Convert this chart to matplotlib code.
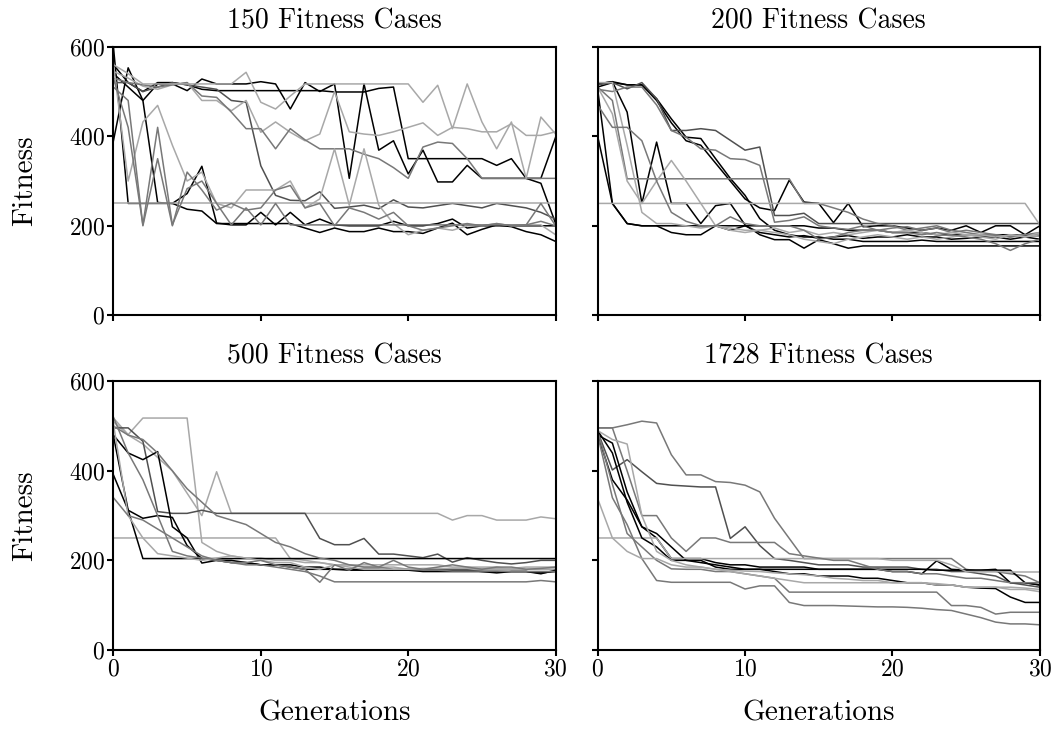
import matplotlib
matplotlib.use("Agg")
import matplotlib.pyplot as plt
import numpy as np

plt.rcParams['font.family'] = 'serif'
plt.rcParams['font.serif'] = ['cmr10']
plt.rcParams['mathtext.fontset'] = 'cm'
plt.rcParams['axes.formatter.use_mathtext'] = True

generations = np.arange(31)
titles = ["150 Fitness Cases", "200 Fitness Cases", "500 Fitness Cases", "1728 Fitness Cases"]

BLACK = "#000000"
DARK = "#505050"
MID = "#787878"
LIGHT = "#a8a8a8"

# 150 fitness cases
runs_150 = [
    (BLACK, [600, 250, 250, 250, 250, 237, 233, 205, 205, 205, 205, 205, 205, 195, 185, 195, 187, 187, 195, 187, 187, 183, 195, 206, 180, 192, 202, 198, 187, 180, 165]),
    (BLACK, [390, 553, 480, 517, 517, 502, 528, 517, 517, 517, 522, 517, 461, 520, 500, 517, 306, 517, 369, 390, 316, 369, 298, 298, 335, 306, 306, 306, 306, 295, 205]),
    (BLACK, [560, 520, 500, 520, 520, 515, 505, 502, 502, 502, 502, 502, 502, 502, 502, 499, 499, 499, 507, 510, 350, 350, 350, 350, 350, 350, 335, 350, 306, 306, 398]),
    (BLACK, [540, 510, 480, 252, 250, 272, 333, 206, 202, 202, 230, 202, 230, 202, 215, 202, 200, 200, 200, 210, 200, 200, 205, 215, 195, 200, 200, 200, 200, 200, 200]),
    (DARK, [520, 520, 500, 510, 520, 515, 510, 505, 480, 476, 334, 268, 257, 256, 276, 239, 242, 246, 238, 258, 242, 240, 245, 250, 245, 240, 250, 245, 240, 230, 215]),
    (LIGHT, [545, 530, 512, 505, 515, 520, 480, 480, 457, 480, 409, 432, 409, 390, 405, 500, 410, 405, 402, 410, 420, 430, 402, 420, 417, 410, 410, 428, 402, 402, 410]),
    (MID, [530, 520, 515, 510, 515, 520, 490, 487, 454, 417, 417, 372, 417, 392, 372, 372, 372, 360, 350, 330, 306, 376, 387, 384, 350, 306, 306, 306, 306, 306, 306]),
    (LIGHT, [560, 540, 517, 517, 517, 517, 517, 517, 517, 543, 476, 461, 490, 517, 517, 517, 517, 517, 517, 517, 517, 476, 514, 417, 517, 432, 372, 432, 306, 443, 405]),
    (LIGHT, [250] * 31),
    (LIGHT, [560, 300, 432, 469, 380, 300, 320, 250, 240, 280, 280, 280, 300, 240, 260, 372, 246, 372, 246, 205, 180, 190, 195, 190, 200, 200, 205, 200, 202, 202, 180]),
    (MID, [530, 420, 202, 420, 202, 283, 300, 250, 202, 240, 202, 250, 202, 202, 202, 202, 202, 202, 202, 202, 202, 202, 202, 202, 202, 202, 202, 202, 202, 210, 200]),
    (MID, [510, 480, 200, 350, 200, 320, 280, 235, 250, 235, 240, 280, 290, 240, 250, 200, 240, 230, 215, 230, 200, 190, 195, 200, 205, 200, 205, 200, 202, 250, 200]),
]

# 200 fitness cases
runs_200 = [
    (BLACK, [505, 250, 205, 200, 200, 200, 200, 200, 200, 200, 200, 200, 200, 200, 200, 195, 195, 190, 190, 190, 185, 185, 185, 180, 180, 180, 180, 180, 180, 178, 178]),
    (BLACK, [400, 250, 205, 200, 200, 185, 180, 180, 200, 190, 200, 185, 180, 175, 178, 172, 175, 178, 172, 175, 175, 180, 175, 175, 170, 172, 175, 175, 170, 175, 170]),
    (BLACK, [517, 522, 454, 250, 387, 250, 250, 205, 245, 250, 202, 180, 169, 169, 150, 169, 160, 150, 155, 155, 155, 155, 155, 155, 155, 155, 155, 155, 155, 155, 155]),
    (BLACK, [517, 522, 515, 515, 484, 439, 398, 395, 350, 306, 268, 216, 190, 180, 175, 175, 170, 170, 165, 165, 165, 165, 168, 165, 165, 165, 165, 165, 165, 165, 165]),
    (BLACK, [510, 520, 515, 515, 480, 430, 390, 380, 340, 300, 260, 240, 234, 302, 253, 250, 207, 250, 198, 200, 200, 195, 190, 195, 190, 200, 185, 200, 200, 180, 200]),
    (DARK, [515, 520, 506, 520, 484, 413, 413, 417, 413, 391, 369, 376, 223, 223, 228, 205, 205, 205, 205, 205, 205, 205, 205, 205, 205, 205, 205, 205, 205, 205, 205]),
    (MID, [505, 500, 510, 510, 470, 413, 398, 372, 369, 350, 348, 335, 208, 212, 220, 200, 195, 192, 200, 190, 195, 198, 190, 195, 185, 190, 185, 180, 175, 180, 185]),
    (MID, [510, 480, 305, 305, 305, 305, 305, 305, 305, 305, 305, 305, 305, 305, 250, 250, 240, 230, 215, 205, 200, 190, 195, 200, 190, 185, 180, 180, 175, 180, 180]),
    (LIGHT, [250] * 30 + [202]),
    (LIGHT, [510, 450, 300, 250, 300, 346, 300, 250, 200, 195, 190, 190, 185, 180, 170, 165, 160, 170, 175, 180, 175, 170, 175, 170, 175, 180, 175, 170, 180, 175, 185]),
    (LIGHT, [520, 520, 380, 230, 205, 205, 200, 195, 200, 190, 185, 190, 195, 185, 190, 180, 185, 180, 185, 190, 185, 190, 185, 180, 185, 180, 180, 175, 180, 175, 180]),
    (MID, [470, 420, 420, 390, 300, 230, 210, 200, 200, 220, 205, 200, 200, 200, 190, 170, 175, 185, 190, 190, 185, 185, 180, 185, 180, 175, 170, 160, 145, 160, 170]),
]

# 500 fitness cases
runs_500 = [
    (LIGHT, [518, 481, 518, 518, 518, 518, 240, 220, 210, 205, 205, 200, 200, 195, 195, 190, 190, 190, 190, 190, 190, 190, 190, 185, 185, 185, 185, 180, 180, 180, 180]),
    (LIGHT, [510, 480, 460, 430, 400, 350, 300, 398, 305, 305, 305, 305, 305, 305, 305, 305, 305, 305, 305, 305, 305, 305, 305, 290, 300, 300, 290, 290, 290, 297, 293]),
    (DARK, [496, 496, 466, 309, 305, 305, 312, 305, 305, 305, 305, 305, 305, 305, 249, 235, 235, 249, 214, 214, 210, 206, 214, 196, 206, 200, 195, 192, 195, 200, 200]),
    (LIGHT, [250, 250, 250, 250, 250, 250, 250, 250, 250, 250, 250, 250, 204, 200, 195, 190, 190, 185, 185, 185, 180, 180, 180, 180, 180, 180, 180, 180, 180, 180, 180]),
    (BLACK, [478, 312, 204, 204, 204, 204, 204, 204, 204, 204, 204, 204, 204, 204, 204, 204, 204, 204, 204, 204, 204, 204, 204, 204, 204, 204, 204, 204, 204, 204, 204]),
    (BLACK, [480, 440, 425, 443, 275, 250, 194, 200, 200, 195, 190, 190, 190, 185, 185, 180, 180, 180, 180, 178, 178, 178, 178, 178, 178, 175, 175, 175, 175, 172, 175]),
    (BLACK, [391, 312, 294, 300, 296, 233, 204, 200, 195, 195, 190, 190, 185, 180, 180, 180, 178, 178, 178, 178, 178, 175, 175, 175, 175, 175, 172, 175, 175, 170, 178]),
    (MID, [520, 440, 380, 300, 220, 210, 205, 200, 195, 190, 190, 185, 180, 175, 165, 152, 152, 152, 152, 152, 152, 152, 152, 152, 152, 152, 152, 152, 152, 155, 152]),
    (MID, [500, 480, 470, 440, 400, 360, 330, 300, 290, 280, 260, 240, 230, 215, 205, 200, 190, 185, 185, 180, 180, 178, 178, 176, 176, 176, 176, 175, 175, 175, 175]),
    (LIGHT, [505, 300, 250, 215, 210, 205, 200, 205, 210, 205, 200, 195, 195, 185, 180, 190, 185, 180, 180, 180, 180, 182, 182, 182, 182, 182, 182, 182, 185, 185, 185]),
    (MID, [340, 300, 290, 270, 250, 230, 210, 200, 195, 195, 200, 190, 185, 180, 151, 190, 178, 195, 185, 200, 185, 180, 185, 190, 185, 180, 185, 185, 180, 182, 185]),
]

# 1728 fitness cases
runs_1728 = [
    (MID, [496, 496, 503, 511, 507, 436, 391, 391, 376, 374, 368, 353, 294, 249, 204, 204, 204, 204, 204, 204, 204, 204, 204, 204, 204, 180, 175, 175, 170, 165, 150]),
    (DARK, [488, 402, 425, 398, 372, 368, 366, 364, 364, 249, 275, 233, 204, 200, 195, 190, 190, 190, 185, 185, 185, 185, 180, 180, 175, 175, 170, 165, 150, 145, 140]),
    (BLACK, [480, 462, 353, 275, 250, 204, 204, 204, 195, 190, 190, 185, 185, 185, 185, 180, 180, 180, 180, 180, 180, 180, 180, 178, 178, 178, 178, 178, 178, 150, 145]),
    (BLACK, [480, 380, 335, 275, 260, 230, 200, 200, 185, 180, 180, 180, 180, 180, 180, 180, 180, 180, 180, 180, 175, 175, 170, 199, 180, 178, 178, 180, 150, 150, 145]),
    (LIGHT, [250, 250, 250, 250, 250, 204, 204, 204, 204, 204, 204, 204, 204, 204, 204, 204, 204, 204, 204, 204, 200, 200, 200, 200, 190, 175, 175, 175, 174, 174, 174]),
    (MID, [480, 340, 280, 204, 155, 151, 151, 151, 151, 151, 136, 143, 143, 106, 99, 99, 99, 98, 97, 96, 96, 95, 93, 90, 88, 80, 72, 62, 58, 58, 56]),
    (MID, [490, 370, 260, 230, 200, 181, 180, 180, 175, 175, 170, 165, 160, 129, 129, 129, 129, 129, 129, 129, 129, 129, 129, 129, 99, 99, 95, 80, 84, 84, 84]),
    (BLACK, [490, 440, 330, 250, 230, 200, 200, 195, 190, 185, 180, 180, 175, 170, 170, 165, 165, 165, 160, 160, 155, 150, 150, 145, 145, 140, 138, 137, 118, 106, 106]),
    (LIGHT, [338, 250, 220, 204, 204, 190, 185, 185, 180, 175, 170, 165, 160, 155, 150, 150, 150, 150, 150, 150, 150, 150, 150, 145, 145, 140, 140, 140, 135, 135, 130]),
    (MID, [496, 496, 400, 300, 300, 250, 220, 250, 250, 240, 240, 240, 240, 215, 210, 205, 200, 200, 190, 180, 175, 175, 170, 170, 165, 160, 160, 155, 150, 150, 150]),
    (LIGHT, [490, 470, 460, 300, 220, 200, 190, 185, 180, 178, 176, 175, 172, 170, 168, 165, 160, 158, 155, 155, 150, 150, 150, 148, 145, 140, 140, 140, 140, 138, 135]),
]

all_runs = [runs_150, runs_200, runs_500, runs_1728]


def main():
    fig, axes = plt.subplots(2, 2, sharex=True, sharey=True, figsize=(10.6, 7.31), dpi=100)
    fig.subplots_adjust(left=0.107, right=0.981, top=0.936, bottom=0.111, wspace=0.095, hspace=0.246)

    for ax, title, runs in zip(axes.flat, titles, all_runs):
        for color, values in runs:
            ax.plot(generations, values, color=color, lw=1.1)
        ax.set_title(title, fontsize=20, pad=13)
        ax.set_xlim(0, 30)
        ax.set_ylim(0, 600)
        ax.set_xticks([0, 10, 20, 30])
        ax.set_yticks([0, 200, 400, 600])
        ax.tick_params(labelsize=17, width=1.5, length=4, pad=2)
        for s in ax.spines.values():
            s.set_linewidth(1.5)

    for ax in axes[:, 0]:
        ax.set_ylabel("Fitness", fontsize=21, labelpad=22)
    for ax in axes[1, :]:
        ax.set_xlabel("Generations", fontsize=21, labelpad=14)

    fig.savefig("out.png")


if __name__ == '__main__':
    main()
